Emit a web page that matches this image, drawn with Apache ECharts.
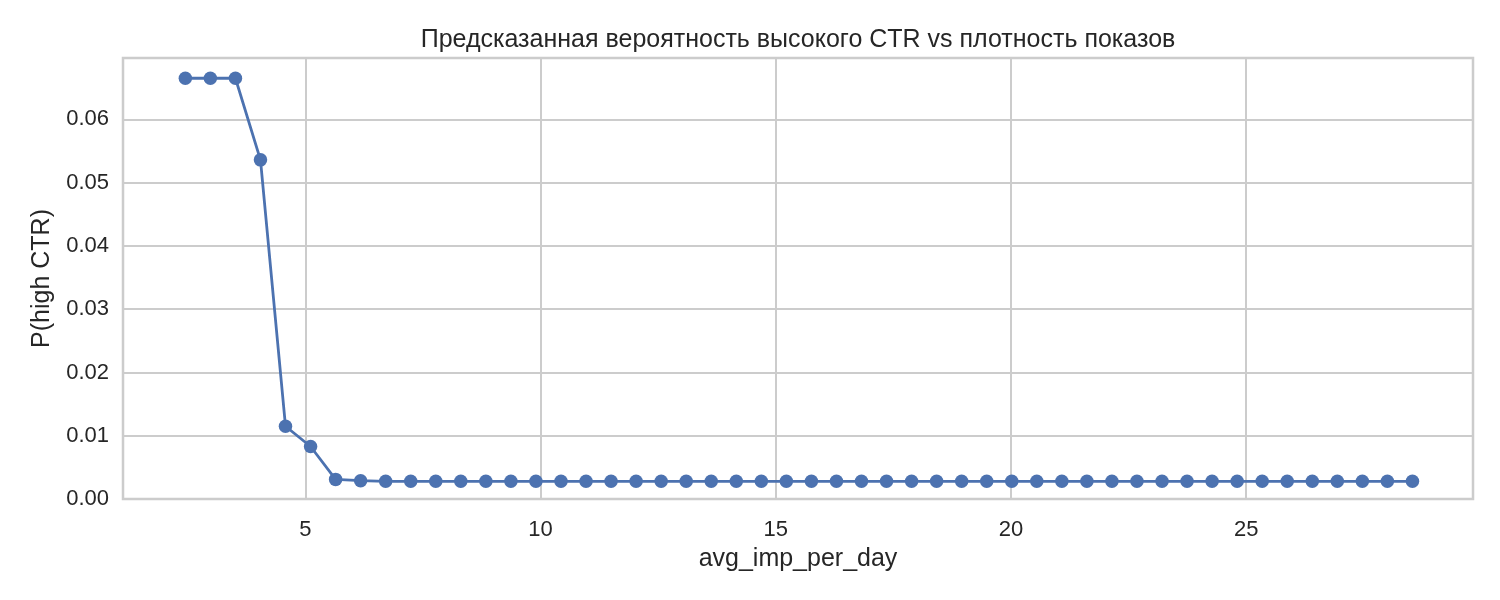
<!DOCTYPE html>
<html>
<head>
<meta charset="utf-8">
<script src="https://cdn.jsdelivr.net/npm/echarts@6/dist/echarts.min.js"></script>
<style>html,body{margin:0;padding:0;background:#fff}#c{width:1500px;height:600px}</style>
</head>
<body>
<div id="c"></div>
<script>
var titleText = 'Предсказанная вероятность высокого CTR vs плотность показов';
var xName = 'avg_imp_per_day';
var yName = 'P(high CTR)';
var xValues = [2.450, 2.982, 3.515, 4.047, 4.579, 5.112, 5.644, 6.176, 6.708, 7.241,
  7.773, 8.305, 8.838, 9.370, 9.902, 10.435, 10.967, 11.499, 12.031, 12.564,
  13.096, 13.628, 14.161, 14.693, 15.225, 15.758, 16.290, 16.822, 17.354, 17.887,
  18.419, 18.951, 19.484, 20.016, 20.548, 21.081, 21.613, 22.145, 22.677, 23.210,
  23.742, 24.274, 24.807, 25.339, 25.871, 26.404, 26.936, 27.468, 28.000, 28.533];
var probValues = [0.0665, 0.0665, 0.0665, 0.0536, 0.0115, 0.0083, 0.0031, 0.0029, 0.0028, 0.0028,
  0.0028, 0.0028, 0.0028, 0.0028, 0.0028, 0.0028, 0.0028, 0.0028, 0.0028, 0.0028,
  0.0028, 0.0028, 0.0028, 0.0028, 0.0028, 0.0028, 0.0028, 0.0028, 0.0028, 0.0028,
  0.0028, 0.0028, 0.0028, 0.0028, 0.0028, 0.0028, 0.0028, 0.0028, 0.0028, 0.0028,
  0.0028, 0.0028, 0.0028, 0.0028, 0.0028, 0.0028, 0.0028, 0.0028, 0.0028, 0.0028];

var font = '"Liberation Sans", Arial, sans-serif';
var textColor = '#262626';
var chart = echarts.init(document.getElementById('c'), null, {renderer: 'canvas'});
var data = xValues.map(function (x, i) { return [x, probValues[i]]; });
chart.setOption({
  animation: false,
  backgroundColor: '#ffffff',
  title: {
    text: titleText, left: 793, top: 23, textAlign: 'center',
    textStyle: {fontFamily: font, fontSize: 25, fontWeight: 'normal', color: textColor}
  },
  grid: {left: 123, right: 27, top: 58, bottom: 101, show: true, borderColor: '#cccccc', borderWidth: 2.5, containLabel: false},
  xAxis: {
    type: 'value', min: 1.125, max: 29.82, splitNumber: 5,
    name: xName, nameLocation: 'middle', nameGap: 48,
    nameTextStyle: {fontFamily: font, fontSize: 25, color: textColor},
    axisLine: {show: false}, axisTick: {show: false},
    axisLabel: {fontFamily: font, fontSize: 22, color: textColor, margin: 20, showMinLabel: false, showMaxLabel: false},
    splitLine: {show: true, lineStyle: {color: '#cccccc', width: 2}}
  },
  yAxis: {
    type: 'value', min: 0, max: 0.0697, interval: 0.01,
    name: yName, nameLocation: 'middle', nameGap: 68,
    nameTextStyle: {fontFamily: font, fontSize: 25, color: textColor},
    axisLine: {show: false}, axisTick: {show: false},
    axisLabel: {fontFamily: font, fontSize: 22, color: textColor, margin: 14, showMaxLabel: false,
      formatter: function (v) { return v.toFixed(2); }},
    splitLine: {show: true, lineStyle: {color: '#cccccc', width: 2}}
  },
  series: [{
    type: 'line', data: data, symbol: 'circle', symbolSize: 13.5,
    lineStyle: {color: '#4c72b0', width: 2.8},
    itemStyle: {color: '#4c72b0'}
  }]
});
</script>
</body>
</html>
